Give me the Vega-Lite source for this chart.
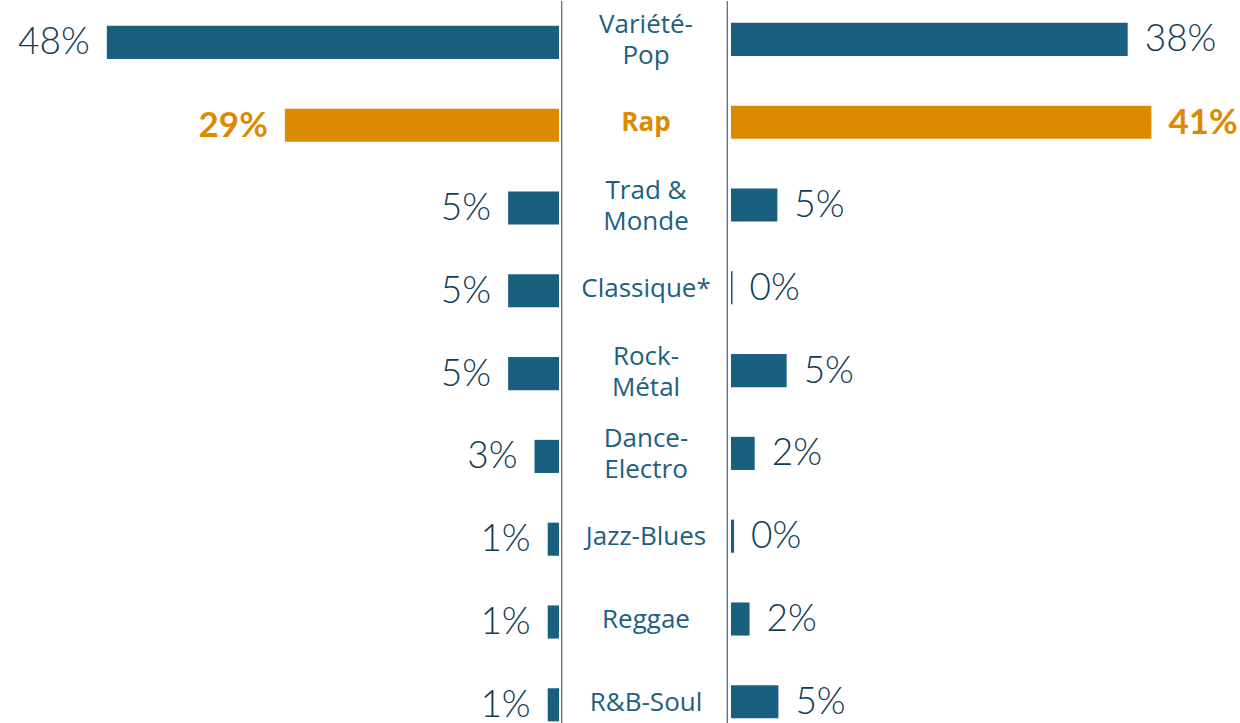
{
  "$schema": "https://vega.github.io/schema/vega-lite/v6.json",
  "padding": 0,
  "spacing": 0,
  "background": "white",
  "config": {"view": {"stroke": null}, "concat": {"spacing": 0}},
  "data": {"values": [
    {"genre": "Variété-Pop", "label": "Variété-\nPop", "lines": 2, "left": 48.0, "leftLabel": "48%", "right": 38.5, "rightLabel": "38%"},
    {"genre": "Rap", "label": "Rap", "lines": 1, "left": 29.1, "leftLabel": "29%", "right": 40.8, "rightLabel": "41%"},
    {"genre": "Trad & Monde", "label": "Trad &\nMonde", "lines": 2, "left": 5.4, "leftLabel": "5%", "right": 4.5, "rightLabel": "5%"},
    {"genre": "Classique*", "label": "Classique*", "lines": 1, "left": 5.4, "leftLabel": "5%", "right": 0.15, "rightLabel": "0%"},
    {"genre": "Rock-Métal", "label": "Rock-\nMétal", "lines": 2, "left": 5.4, "leftLabel": "5%", "right": 5.4, "rightLabel": "5%"},
    {"genre": "Dance-Electro", "label": "Dance-\nElectro", "lines": 2, "left": 2.6, "leftLabel": "3%", "right": 2.3, "rightLabel": "2%"},
    {"genre": "Jazz-Blues", "label": "Jazz-Blues", "lines": 1, "left": 1.2, "leftLabel": "1%", "right": 0.3, "rightLabel": "0%"},
    {"genre": "Reggae", "label": "Reggae", "lines": 1, "left": 1.2, "leftLabel": "1%", "right": 1.8, "rightLabel": "2%"},
    {"genre": "R&B-Soul", "label": "R&B-Soul", "lines": 1, "left": 1.2, "leftLabel": "1%", "right": 4.6, "rightLabel": "5%"}
  ]},
  "hconcat": [
    {
      "width": 559,
      "height": 723,
      "encoding": {
        "y": {"field": "genre", "type": "nominal", "sort": null, "axis": null,
              "scale": {"type": "band", "paddingInner": 0.6, "paddingOuter": 0.166, "align": 0.904}},
        "x": {"field": "left", "type": "quantitative", "axis": null,
              "scale": {"domain": [0, 59.34], "reverse": true, "nice": false, "zero": true}}
      },
      "layer": [
        {"mark": {"type": "bar"},
         "encoding": {"color": {"condition": {"test": "datum.genre === 'Rap'", "value": "#dc8a00"}, "value": "#185f80"}}},
        {"transform": [{"filter": "datum.genre !== 'Rap'"}],
         "mark": {"type": "text", "align": "right", "baseline": "middle", "dx": -17, "dy": 1, "fontSize": 37, "font": "Lato", "fontWeight": 300, "color": "#0f3c54"},
         "encoding": {"text": {"field": "leftLabel"}}},
        {"transform": [{"filter": "datum.genre === 'Rap'"}],
         "mark": {"type": "text", "align": "right", "baseline": "middle", "dx": -17, "dy": 1, "fontSize": 35, "font": "Lato", "fontWeight": "bold", "color": "#dc8a00"},
         "encoding": {"text": {"field": "leftLabel"}}}
      ]
    },
    {
      "width": 172,
      "height": 723,
      "encoding": {
        "y": {"field": "genre", "type": "nominal", "sort": null, "axis": null,
              "scale": {"type": "band", "domain": ["Variété-Pop", "Rap", "Trad & Monde", "Classique*", "Rock-Métal", "Dance-Electro", "Jazz-Blues", "Reggae", "R&B-Soul"], "paddingInner": 0.6, "paddingOuter": 0.166, "align": 0.904}}
      },
      "layer": [
        {"data": {"values": [{"pos": 2.7}, {"pos": 168.3}]},
         "mark": {"type": "rule", "color": "#4d7391", "strokeWidth": 1.3},
         "encoding": {"y": null, "x": {"field": "pos", "type": "quantitative", "axis": null, "scale": {"domain": [0, 172], "nice": false, "zero": true}}}},
        {"transform": [{"filter": "datum.genre !== 'Rap' && datum.lines === 1"}],
         "mark": {"type": "text", "align": "center", "baseline": "middle", "dx": 1, "dy": -2, "fontSize": 26, "font": "Open Sans", "color": "#1d6080"},
         "encoding": {"text": {"field": "label"}}},
        {"transform": [{"filter": "datum.lines === 2"}],
         "mark": {"type": "text", "align": "center", "baseline": "middle", "dx": 1, "dy": -17, "fontSize": 26, "font": "Open Sans", "lineBreak": "\n", "lineHeight": 31, "color": "#1d6080"},
         "encoding": {"text": {"field": "label"}}},
        {"transform": [{"filter": "datum.genre === 'Rap'"}],
         "mark": {"type": "text", "align": "center", "baseline": "middle", "dx": 1, "dy": -2, "fontSize": 26, "font": "Open Sans", "fontWeight": "bold", "color": "#dc8a00"},
         "encoding": {"text": {"field": "label"}}}
      ]
    },
    {
      "width": 509,
      "height": 723,
      "encoding": {
        "y": {"field": "genre", "type": "nominal", "sort": null, "axis": null,
              "scale": {"type": "band", "paddingInner": 0.6, "paddingOuter": 0.166, "align": 0.795}},
        "x": {"field": "right", "type": "quantitative", "axis": null,
              "scale": {"domain": [0, 49.4], "nice": false, "zero": true}}
      },
      "layer": [
        {"mark": {"type": "bar"},
         "encoding": {"color": {"condition": {"test": "datum.genre === 'Rap'", "value": "#dc8a00"}, "value": "#185f80"}}},
        {"transform": [{"filter": "datum.genre !== 'Rap'"}],
         "mark": {"type": "text", "align": "left", "baseline": "middle", "dx": 17, "dy": 1, "fontSize": 37, "font": "Lato", "fontWeight": 300, "color": "#0f3c54"},
         "encoding": {"text": {"field": "rightLabel"}}},
        {"transform": [{"filter": "datum.genre === 'Rap'"}],
         "mark": {"type": "text", "align": "left", "baseline": "middle", "dx": 17, "dy": 1, "fontSize": 35, "font": "Lato", "fontWeight": "bold", "color": "#dc8a00"},
         "encoding": {"text": {"field": "rightLabel"}}}
      ]
    }
  ]
}
